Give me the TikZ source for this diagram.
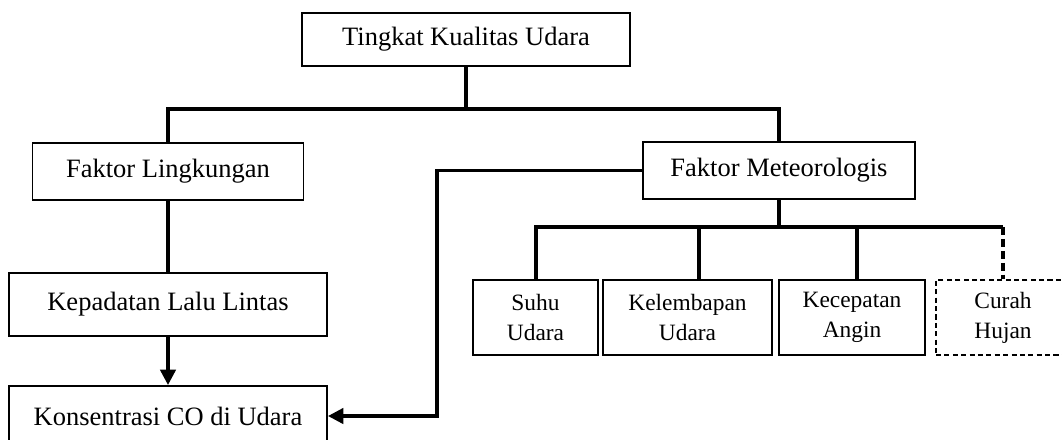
\documentclass[tikz,border=0pt]{standalone}
\usepackage{fontspec}
\setmainfont{Liberation Serif}
\usepackage{tikz}
\usetikzlibrary{arrows.meta, positioning}
\newcommand{\pxu}{0.453pt}
\tikzstyle{box} = [rectangle, draw=black, line width=0.9pt, align=center, inner sep=2pt, font=\fontsize{12}{14}\selectfont]
\tikzstyle{subbox} = [box, minimum height=75*\pxu, font=\fontsize{10.6}{13.6}\selectfont]
\tikzstyle{dashbox} = [dash pattern=on 2.3pt off 1.5pt]
\tikzstyle{link} = [line width=1.5pt]
\tikzstyle{dashlink} = [line width=1.5pt, dash pattern=on 3.6pt off 1.8pt]
\tikzstyle{arrow} = [line width=1.5pt, -{Triangle[length=7pt,width=7pt]}]

\begin{document}
\begin{tikzpicture}[x=\pxu, y=-\pxu]
\useasboundingbox (0,0) rectangle (1062,439);
\clip (0,0) rectangle (1062,439);

% main boxes
\node[box, minimum width=328*\pxu, minimum height=53*\pxu] (kualitas) at (466,39.5) {Tingkat Kualitas Udara};
\node[box, minimum width=271*\pxu, minimum height=57*\pxu] (lingkungan) at (168,171.5) {Faktor Lingkungan};
\node[box, minimum width=272*\pxu, minimum height=57*\pxu] (meteo) at (779,170.5) {Faktor Meteorologis};
\node[box, minimum width=318*\pxu, minimum height=63*\pxu] (kepadatan) at (168,304.5) {Kepadatan Lalu Lintas};
\node[box, minimum width=318*\pxu, minimum height=60*\pxu] (konsentrasi) at (168,416) {Konsentrasi CO di Udara};

% meteorological factors
\node[subbox, minimum width=125*\pxu] (suhu) at (535.5,317.5) {Suhu\\Udara};
\node[subbox, minimum width=169*\pxu] (lembap) at (687.5,317.5) {Kelembapan\\Udara};
\node[subbox, minimum width=146*\pxu] (angin) at (852,317.5) {Kecepatan\\Angin};
\node[subbox, dashbox, minimum width=134*\pxu] (hujan) at (1003,317.5) {Curah\\Hujan};

% branch points
\coordinate (bar1) at (466,109);
\coordinate (bar2) at (779,227);
\coordinate (turn) at (437,170.5);
\coordinate (drop1) at (536,227);
\coordinate (drop2) at (699,227);
\coordinate (drop3) at (857,227);
\coordinate (drop4) at (1003,227);

\draw[link] (kualitas.south) -- (bar1);
\draw[link] (lingkungan.north) |- (bar1) -| (meteo.north);
\draw[link] (lingkungan.south) -- (kepadatan.north);
\draw[arrow] (kepadatan.south) -- (konsentrasi.north);
\draw[arrow] (meteo.west) -- (turn) |- (konsentrasi.east);

\draw[link] (meteo.south) -- (bar2);
\draw[link] (drop1 |- suhu.north) -- (drop1) -- (drop4);
\draw[link] (drop2) -- (drop2 |- lembap.north);
\draw[link] (drop3) -- (drop3 |- angin.north);
\draw[dashlink] (drop4) -- (drop4 |- hujan.north);
\end{tikzpicture}
\end{document}
